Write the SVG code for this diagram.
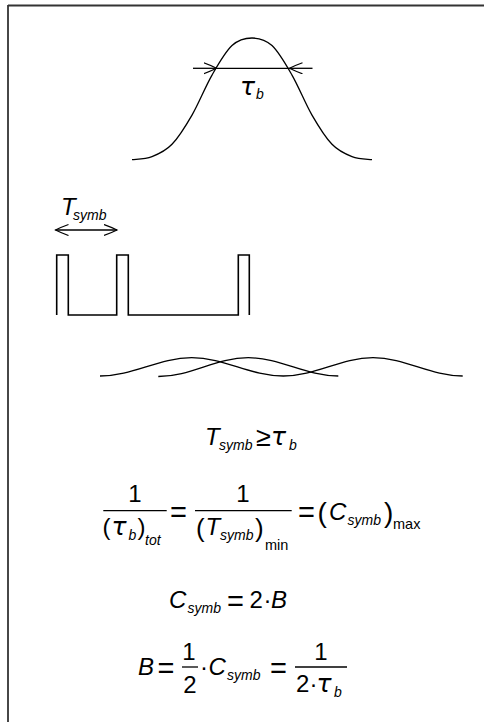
<svg xmlns="http://www.w3.org/2000/svg" width="484" height="722" viewBox="0 0 484 722">
<style>
.ln{fill:none;stroke:#000;stroke-width:1.3}
.pl{fill:none;stroke:#000;stroke-width:1.6}
.v{font-family:"Liberation Sans",Arial,sans-serif;font-style:italic;font-size:24px;fill:#000}
.s{font-family:"Liberation Sans",Arial,sans-serif;font-style:italic;font-size:14px;fill:#000}
.r{font-family:"Liberation Sans",Arial,sans-serif;font-size:24px;fill:#000}
.eq{font-family:"Liberation Sans",Arial,sans-serif;font-size:29px;fill:#000}
.rs{font-family:"Liberation Sans",Arial,sans-serif;font-size:14.5px;fill:#000}
.g{font-family:"DejaVu Sans","Liberation Serif",serif;font-style:italic;font-size:25px;fill:#000}
.bar{stroke:#000;stroke-width:1.3}
</style>
<defs>
<marker id="ah" markerUnits="userSpaceOnUse" markerWidth="16" markerHeight="14" refX="13" refY="6" orient="auto-start-reverse">
<path d="M0,0.5 Q7,3 13,6 Q7,9 0,11.5" fill="none" stroke="#000" stroke-width="1.2"/>
</marker>
</defs>
<g id="frame">
<line x1="8" y1="5.5" x2="484" y2="5.5" stroke="#333" stroke-width="1.8"/>
<line x1="8" y1="5" x2="8" y2="722" stroke="#333" stroke-width="1.8"/>
</g>
<g id="pulse-shape">
<path class="ln" d="M132,159.6 C138.67,159.03 145.33,159.15 152,156.6 C158.67,154.05 165.33,151.22 172,144.3 C178.67,137.38 185.33,126.63 192,115.1 C198.67,103.57 205.33,86.68 212,75.1 C218.67,63.52 225.33,51.78 232,45.6 C238.67,39.42 245.33,38 252,38 C258.67,38 265.33,39.42 272,45.6 C278.67,51.78 285.33,63.52 292,75.1 C298.67,86.68 305.33,103.57 312,115.1 C318.67,126.63 325.33,137.38 332,144.3 C338.67,151.22 345.33,154.05 352,156.6 C358.67,159.15 365.33,159.03 372,159.6"/>
<path class="ln" d="M193,68.3 H216.5" marker-end="url(#ah)"/>
<path class="ln" d="M312.5,68.3 H289.5" marker-end="url(#ah)"/>
<path class="ln" d="M216.5,68.3 H289.5"/>
<text class="g" x="240" y="95">τ</text>
<text class="s" x="256" y="99">b</text>
</g>
<g id="pulse-train">
<text class="v" x="61" y="215">T</text>
<text class="s" x="73" y="220">symb</text>
<path class="ln" d="M55.5,230 H117" marker-start="url(#ah)" marker-end="url(#ah)"/>
<path class="pl" d="M56.7,315 V255 H68.3 V315 H116.7 V255 H128.3 V315 H238.3 V255 H249.3 V315"/>
</g>
<g id="overlap">
<path class="ln" d="M100,376 C133.3,376 158.4,357.7 191.7,357.7 C225,357.7 250,376 283.3,376 C315.9,376 340.4,357.7 373,357.7 C405.6,357.7 430.1,376 462.7,376"/>
<path class="ln" d="M158.3,376.5 C191,376.5 215.6,357.7 248.3,357.7 C281,357.7 305.6,376 338.3,376"/>
</g>
<g id="eq1">
<text class="v" x="205" y="445">T</text>
<text class="s" x="219" y="450">symb</text>
<text class="r" x="256" y="446" style="font-size:27px">≥</text>
<text class="g" x="271" y="445">τ</text>
<text class="s" x="289" y="450">b</text>
</g>
<g id="eq2">
<text class="r" x="135" y="502" text-anchor="middle">1</text>
<line class="bar" x1="103.3" y1="510.7" x2="166.7" y2="510.7"/>
<text class="r" x="102.5" y="535">(</text>
<text class="g" x="111.5" y="535">τ</text>
<text class="s" x="128.5" y="540">b</text>
<text class="r" x="137.5" y="535">)</text>
<text class="s" x="145" y="545">tot</text>
<text class="eq" x="170" y="521.5">=</text>
<text class="r" x="243" y="502" text-anchor="middle">1</text>
<line class="bar" x1="195" y1="510.7" x2="291.7" y2="510.7"/>
<text class="r" x="196" y="537" style="font-size:26px">(</text>
<text class="v" x="205.5" y="535">T</text>
<text class="s" x="220" y="540">symb</text>
<text class="r" x="255" y="537" style="font-size:26px">)</text>
<text class="rs" x="265" y="550">min</text>
<text class="eq" x="298" y="521.5">=</text>
<text class="r" x="317.5" y="522" style="font-size:28px">(</text>
<text class="v" x="329" y="520">C</text>
<text class="s" x="347.5" y="525">symb</text>
<text class="r" x="384" y="522" style="font-size:28px">)</text>
<text class="rs" x="393" y="529">max</text>
</g>
<g id="eq3">
<text class="v" x="169" y="608">C</text>
<text class="s" x="187.5" y="613">symb</text>
<text class="eq" x="227" y="610.5">=</text>
<text class="r" x="249.5" y="608">2</text>
<text class="r" x="263.5" y="608">·</text>
<text class="v" x="271" y="608">B</text>
</g>
<g id="eq4">
<text class="v" x="138" y="675">B</text>
<text class="eq" x="157.5" y="677.5">=</text>
<text class="r" x="189" y="660" text-anchor="middle">1</text>
<line class="bar" x1="182" y1="667" x2="198" y2="667"/>
<text class="r" x="190" y="693" text-anchor="middle">2</text>
<text class="r" x="200" y="675">·</text>
<text class="v" x="208.5" y="675">C</text>
<text class="s" x="227" y="680">symb</text>
<text class="eq" x="270" y="677.5">=</text>
<text class="r" x="321" y="660" text-anchor="middle">1</text>
<line class="bar" x1="295" y1="667" x2="347" y2="667"/>
<text class="r" x="296" y="692">2</text>
<text class="r" x="309.5" y="692">·</text>
<text class="g" x="316.5" y="692">τ</text>
<text class="s" x="334" y="697">b</text>
</g>
</svg>
